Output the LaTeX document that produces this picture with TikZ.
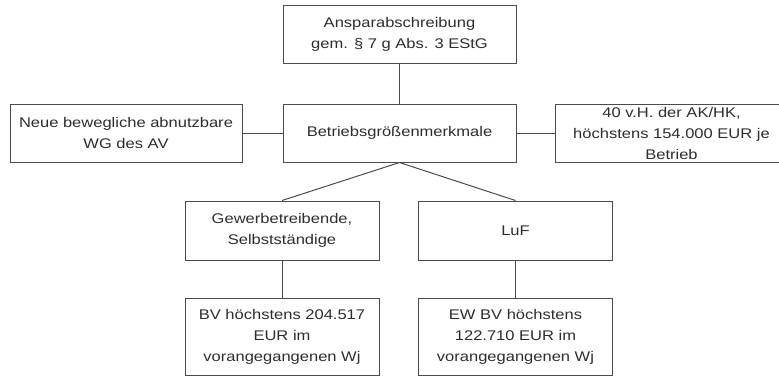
\documentclass[tikz,border=0pt]{standalone}
\usepackage{fontspec}
\setmainfont[FakeStretch=1.18]{Liberation Sans}
\usetikzlibrary{positioning}
\definecolor{trait}{RGB}{75,75,75}
\definecolor{texte}{RGB}{45,45,45}

\begin{document}
\begin{tikzpicture}[x=1pt,y=-1pt,
    boite/.style={draw=trait,line width=1pt,minimum width=233pt,minimum height=58pt,
                  inner sep=0,align=center,text=texte,font=\fontsize{14}{21}\selectfont},
    petite/.style={boite,minimum width=194pt,minimum height=59pt}]
\useasboundingbox (0,0) rectangle (779,376);
\node[boite](ANS) at (399.5,34.5) {Ansparabschreibung\\gem. § 7 g Abs. 3 EStG};
\node[boite](BGM) at (399.5,133) {Betriebsgrößenmerkmale};
\node[boite,minimum width=232pt](WG) at (126,133) {Neue bewegliche abnutzbare\\WG des AV};
\node[boite](AK) at (671.5,133) {40 v.H. der AK/HK,\\höchstens 154.000 EUR je\\Betrieb};
\node[petite](GEW) at (282,230.5) {Gewerbetreibende,\\Selbstständige};
\node[petite](LUF) at (515.5,230.5) {LuF};
\node[petite,minimum height=77pt](BV) at (282,336.5) {BV höchstens 204.517\\EUR im\\vorangegangenen Wj};
\node[petite,minimum height=77pt](EW) at (515.5,336.5) {EW BV höchstens\\122.710 EUR im\\vorangegangenen Wj};
% liaisons
\draw[trait,line width=1pt] (ANS) -- (BGM);
\draw[trait,line width=1pt] (WG) -- (BGM);
\draw[trait,line width=1pt] (BGM) -- (AK);
\draw[trait,line width=1pt] (BGM.south) -- (GEW.north);
\draw[trait,line width=1pt] (BGM.south) -- (LUF.north);
\draw[trait,line width=1pt] (GEW) -- (BV);
\draw[trait,line width=1pt] (LUF) -- (EW);
\end{tikzpicture}
\end{document}
